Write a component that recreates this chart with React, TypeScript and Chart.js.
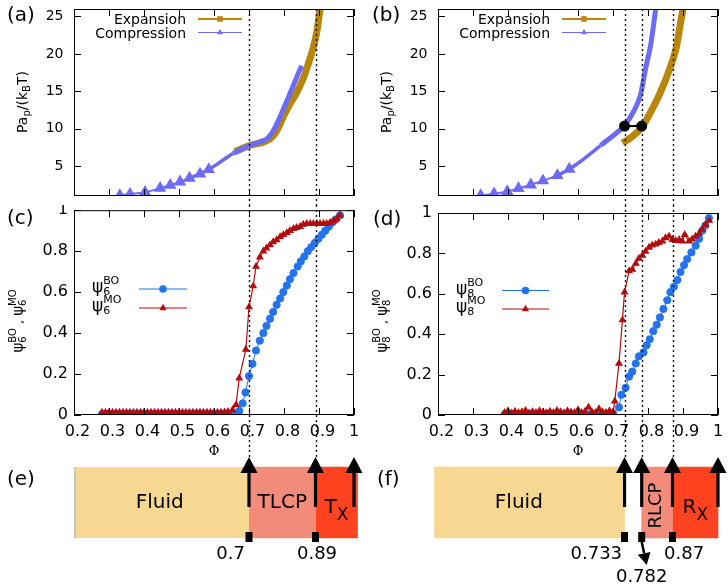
import React, { useEffect, useRef } from "react";
import { Chart, registerables } from "chart.js";

Chart.register(...registerables);

const SANS = '"DejaVu Sans", "Noto Sans", sans-serif';
const SERIF = '"DejaVu Serif", serif';

// ---------------- axis ticks ----------------
const PHI_TICKS = [0.2, 0.3, 0.4, 0.5, 0.6, 0.7, 0.8, 0.9, 1.0];
const PHI_TICK_LABELS = ["0.2", "0.3", "0.4", "0.5", "0.6", "0.7", "0.8", "0.9", "1"];
const P_TICKS = [5, 10, 15, 20, 25];
const P_TICK_LABELS = ["5", "10", "15", "20", "25"];
const PSI_TICKS = [0, 0.2, 0.4, 0.6, 0.8, 1];
const PSI_TICK_LABELS = ["0", "0.2", "0.4", "0.6", "0.8", "1"];

// ---------------- transitions ----------------
const TRI_TRANSITIONS = [0.7, 0.89];
const SQ_TRANSITIONS = [0.733, 0.782, 0.87];
const TRI_ARROWS = [0.7, 0.89, 1.0];
const SQ_ARROWS = [0.733, 0.782, 0.87, 1.0];
const TRI_MARK_LABELS = ["0.7", "0.89"];
const SQ_MARK_LABELS = ["0.733", "0.782", "0.87"];

// ---------------- (a) triangles: pressure ----------------
const A_CMP_PHI = [0.331, 0.36, 0.403, 0.446, 0.475, 0.503, 0.53, 0.56, 0.585, 0.608, 0.655, 0.703, 0.741, 0.751, 0.769, 0.789, 0.808, 0.827, 0.846, 0.851];
const A_CMP_P = [1.08, 1.25, 1.5, 2.05, 2.45, 2.9, 3.4, 3.96, 4.55, 5.23, 6.7, 7.77, 8.4, 8.63, 9.7, 11.6, 13.7, 15.8, 17.95, 18.4];
const A_EXP_PHI = [0.66, 0.703, 0.741, 0.76, 0.779, 0.798, 0.817, 0.836, 0.855, 0.869, 0.884, 0.894, 0.903];
const A_EXP_P = [6.93, 7.77, 8.2, 8.63, 9.7, 11.6, 13.3, 14.8, 16.7, 18.6, 20.9, 23.0, 26.0];

// ---------------- (b) squares: pressure ----------------
const B_CMP_PHI = [0.322, 0.36, 0.398, 0.43, 0.465, 0.5, 0.541, 0.575, 0.608, 0.665, 0.712, 0.731, 0.76, 0.779, 0.793, 0.808, 0.822];
const B_CMP_P = [1.08, 1.3, 1.6, 2.0, 2.5, 3.05, 3.75, 4.6, 5.65, 7.77, 9.5, 10.3, 12.4, 14.6, 18.0, 21.3, 26.0];
const B_EXP_PHI = [0.727, 0.748, 0.781, 0.805, 0.833, 0.862, 0.881, 0.895, 0.9];
const B_EXP_P = [8.1, 8.7, 10.1, 12.0, 14.6, 18.0, 20.9, 24.7, 26.0];
const B_HYST_PHI = [0.733, 0.782];
const B_HYST_P = [10.35, 10.35];

// ---------------- (c) triangles: order parameters ----------------
const C_BO_PHI = [
  0.28, 0.29, 0.3, 0.31, 0.32, 0.33, 0.34, 0.35, 0.36, 0.37, 0.38, 0.39, 0.4, 0.41, 0.42, 0.43, 0.44, 0.45, 0.46, 0.47,
  0.48, 0.49, 0.5, 0.51, 0.52, 0.53, 0.54, 0.55, 0.56, 0.57, 0.58, 0.59, 0.6, 0.61, 0.62, 0.63, 0.64, 0.65, 0.66,
  0.672, 0.682, 0.69, 0.7, 0.71, 0.72, 0.731, 0.741, 0.75, 0.76, 0.769, 0.779, 0.789, 0.798, 0.808, 0.817, 0.827,
  0.839, 0.848, 0.858, 0.868, 0.878, 0.888, 0.898, 0.908, 0.918, 0.928, 0.938, 0.948, 0.96,
];
const C_BO_PSI = [
  0.004, 0.004, 0.004, 0.004, 0.004, 0.004, 0.004, 0.004, 0.004, 0.004, 0.004, 0.004, 0.004, 0.004, 0.004, 0.004, 0.004,
  0.004, 0.004, 0.004, 0.004, 0.004, 0.004, 0.004, 0.004, 0.004, 0.004, 0.004, 0.004, 0.004, 0.004, 0.004, 0.004, 0.004,
  0.004, 0.004, 0.004, 0.005, 0.006,
  0.02, 0.057, 0.11, 0.19, 0.25, 0.315, 0.363, 0.4, 0.435, 0.47, 0.503, 0.538, 0.569, 0.6, 0.632, 0.663, 0.693,
  0.725, 0.75, 0.774, 0.8, 0.82, 0.84, 0.86, 0.88, 0.9, 0.92, 0.94, 0.955, 0.975,
];
const C_MO_PHI = [
  0.28, 0.29, 0.3, 0.31, 0.32, 0.33, 0.34, 0.35, 0.36, 0.37, 0.38, 0.39, 0.4, 0.41, 0.42, 0.43, 0.44, 0.45, 0.46, 0.47,
  0.48, 0.49, 0.5, 0.51, 0.52, 0.53, 0.54, 0.55, 0.56, 0.57, 0.58, 0.59, 0.6, 0.61, 0.62, 0.63, 0.64,
  0.653, 0.663, 0.672, 0.691, 0.7, 0.712, 0.72, 0.731, 0.741, 0.75, 0.76, 0.769, 0.779, 0.789, 0.798, 0.808, 0.817,
  0.827, 0.836, 0.846, 0.855, 0.865, 0.875, 0.884, 0.894, 0.903, 0.913, 0.922, 0.932, 0.942, 0.951, 0.96,
];
const C_MO_PSI = [
  0.013, 0.013, 0.013, 0.013, 0.013, 0.013, 0.013, 0.013, 0.013, 0.013, 0.013, 0.013, 0.013, 0.013, 0.013, 0.013, 0.013,
  0.013, 0.013, 0.013, 0.013, 0.013, 0.013, 0.013, 0.013, 0.013, 0.013, 0.013, 0.013, 0.013, 0.013, 0.013, 0.013, 0.013,
  0.013, 0.014, 0.016,
  0.025, 0.05, 0.18, 0.32, 0.527, 0.63, 0.725, 0.77, 0.8, 0.815, 0.83, 0.845, 0.855, 0.87, 0.88, 0.89, 0.9, 0.91,
  0.915, 0.92, 0.93, 0.934, 0.934, 0.934, 0.934, 0.934, 0.934, 0.934, 0.94, 0.948, 0.958, 0.975,
];

// ---------------- (d) squares: order parameters ----------------
const D_BO_PHI = [
  0.39, 0.4, 0.41, 0.42, 0.43, 0.44, 0.45, 0.46, 0.47, 0.48, 0.49, 0.5, 0.51, 0.52, 0.53, 0.54, 0.55, 0.56, 0.57, 0.58,
  0.59, 0.6, 0.61, 0.62, 0.63, 0.64, 0.65, 0.66, 0.67, 0.68, 0.69, 0.7,
  0.717, 0.724, 0.736, 0.746, 0.755, 0.765, 0.774, 0.787, 0.796, 0.805, 0.815, 0.825, 0.834, 0.844, 0.855, 0.864,
  0.874, 0.884, 0.893, 0.903, 0.912, 0.924, 0.936, 0.946, 0.955, 0.964, 0.974,
];
const D_BO_PSI = [
  0.003, 0.004, 0.002, 0.005, 0.003, 0.004, 0.002, 0.006, 0.003, 0.004, 0.002, 0.005, 0.008, 0.004, 0.006, 0.003,
  0.005, 0.004, 0.002, 0.006, 0.004, 0.003, 0.005, 0.004, 0.003, 0.006, 0.004, 0.005, 0.003, 0.004, 0.006, 0.008,
  0.038, 0.1, 0.135, 0.19, 0.215, 0.255, 0.29, 0.31, 0.345, 0.375, 0.415, 0.447, 0.483, 0.525, 0.568, 0.608, 0.635,
  0.668, 0.708, 0.742, 0.772, 0.805, 0.838, 0.872, 0.913, 0.938, 0.975,
];
const D_MO_PHI = [
  0.39, 0.4, 0.41, 0.42, 0.43, 0.44, 0.45, 0.46, 0.47, 0.48, 0.49, 0.5, 0.51, 0.52, 0.53, 0.54, 0.55, 0.56, 0.57, 0.58,
  0.59, 0.6, 0.61, 0.62, 0.63, 0.64, 0.65, 0.66, 0.67, 0.68, 0.69, 0.7,
  0.705, 0.717, 0.727, 0.733, 0.746, 0.755, 0.765, 0.774, 0.784, 0.793, 0.803, 0.812, 0.822, 0.831, 0.841, 0.85,
  0.86, 0.87, 0.879, 0.889, 0.898, 0.905, 0.917, 0.926, 0.936, 0.946, 0.955, 0.964, 0.975,
];
const D_MO_PSI = [
  0.012, 0.02, 0.01, 0.018, 0.012, 0.015, 0.022, 0.01, 0.016, 0.012, 0.02, 0.014, 0.01, 0.018, 0.012, 0.022, 0.015,
  0.01, 0.02, 0.014, 0.012, 0.025, 0.012, 0.018, 0.038, 0.014, 0.012, 0.03, 0.015, 0.012, 0.02, 0.014,
  0.068, 0.255, 0.47, 0.608, 0.713, 0.72, 0.75, 0.775, 0.79, 0.81, 0.83, 0.84, 0.845, 0.853, 0.86, 0.877, 0.885,
  0.868, 0.863, 0.868, 0.86, 0.893, 0.86, 0.87, 0.885, 0.898, 0.918, 0.942, 0.963,
];

// ---------------- (e), (f) phase sequences ----------------
const E_PHASES = ["Fluid", "TLCP", "T_X"];
const E_START = [0.2, 0.7, 0.89];
const E_END = [0.7, 0.89, 1.01];
const F_PHASES = ["Fluid", "RLCP", "R_X"];
const F_START = [0.19, 0.782, 0.87];
const F_END = [0.733, 0.87, 1.0];

// ---------------- styles ----------------
const GOLD = "#B8860B";
const VIOLET = "#6B6BF6";
const BLUE = "#2372EE";
const RED = "#B30C0C";
const PHASE_COLORS = ["#F6D892", "#F28B7A", "#FF4320"];

type Seg = { t: string; size: number; dy?: number; stack?: boolean; font?: string };

function richWidth(ctx: CanvasRenderingContext2D, segs: Seg[]) {
  let w = 0;
  let pend = 0;
  for (const s of segs) {
    ctx.font = `${s.size}px ${s.font || SANS}`;
    const sw = ctx.measureText(s.t).width;
    if (s.stack) pend = sw;
    else {
      w += Math.max(pend, sw);
      pend = 0;
    }
  }
  return w + pend;
}

function drawRich(ctx: CanvasRenderingContext2D, segs: Seg[], x: number, y: number, align = "left", rotate = 0) {
  ctx.save();
  ctx.translate(x, y);
  if (rotate) ctx.rotate(rotate);
  ctx.fillStyle = "#000";
  ctx.textAlign = "left";
  ctx.textBaseline = "alphabetic";
  const w = richWidth(ctx, segs);
  let cx = align === "center" ? -w / 2 : align === "right" ? -w : 0;
  let pend = 0;
  for (const s of segs) {
    ctx.font = `${s.size}px ${s.font || SANS}`;
    const sw = ctx.measureText(s.t).width;
    ctx.fillText(s.t, cx, s.dy || 0);
    if (s.stack) pend = sw;
    else {
      cx += Math.max(pend, sw);
      pend = 0;
    }
  }
  ctx.restore();
}

function drawMarker(ctx: CanvasRenderingContext2D, kind: string, x: number, y: number, r: number, color: string) {
  ctx.save();
  ctx.fillStyle = color;
  ctx.beginPath();
  if (kind === "circle") ctx.arc(x, y, r, 0, Math.PI * 2);
  else if (kind === "rect") ctx.rect(x - r, y - r, 2 * r, 2 * r);
  else {
    ctx.moveTo(x, y - r * 1.15);
    ctx.lineTo(x + r, y + r * 0.6);
    ctx.lineTo(x - r, y + r * 0.6);
    ctx.closePath();
  }
  ctx.fill();
  ctx.restore();
}

function panelPlugin(spec: any) {
  return {
    id: "panelDecor",
    afterDatasetsDraw(chart: any) {
      const { ctx, chartArea: a, scales } = chart;
      const xs = scales.x;
      const ys = scales.y;
      ctx.save();
      // dotted transition lines
      ctx.setLineDash([2, 3]);
      ctx.lineWidth = 1.4;
      ctx.strokeStyle = "#111";
      ctx.beginPath();
      for (const v of spec.dotted) {
        const px = Math.round(xs.getPixelForValue(v)) + 0.5;
        ctx.moveTo(px, spec.dottedFromCanvasTop ? 0 : a.top);
        ctx.lineTo(px, chart.height);
      }
      ctx.stroke();
      ctx.setLineDash([]);
      // frame + inward ticks
      ctx.strokeStyle = "#000";
      ctx.lineWidth = 1;
      ctx.strokeRect(a.left + 0.5, a.top + 0.5, a.right - a.left - 1, a.bottom - a.top - 1);
      const tl = 7;
      ctx.beginPath();
      for (const v of PHI_TICKS) {
        const px = Math.round(xs.getPixelForValue(v)) + 0.5;
        ctx.moveTo(px, a.bottom);
        ctx.lineTo(px, a.bottom - tl);
        ctx.moveTo(px, a.top);
        ctx.lineTo(px, a.top + tl);
      }
      for (const v of spec.yTicks) {
        const py = Math.round(ys.getPixelForValue(v)) + 0.5;
        ctx.moveTo(a.left, py);
        ctx.lineTo(a.left + tl, py);
        ctx.moveTo(a.right, py);
        ctx.lineTo(a.right - tl, py);
      }
      ctx.stroke();
      // tick labels
      ctx.fillStyle = "#000";
      ctx.font = `${spec.yTickSize}px ${SANS}`;
      ctx.textAlign = "right";
      ctx.textBaseline = "middle";
      spec.yTicks.forEach((v: number, i: number) => {
        ctx.fillText(spec.yTickLabels[i], a.left - spec.yTickGap, ys.getPixelForValue(v));
      });
      if (spec.showXLabels) {
        ctx.font = `16px ${SANS}`;
        ctx.textAlign = "center";
        PHI_TICKS.forEach((v, i) => {
          const l = PHI_TICK_LABELS[i];
          ctx.fillText(l, xs.getPixelForValue(v) + (l.length > 1 ? 3.5 : 0), a.bottom + 16.5);
        });
      }
      // legend
      if (spec.legend) {
        const lg = spec.legend;
        for (const row of lg.rows) {
          drawRich(ctx, row.segs, lg.textX, row.y + (row.textDy || 0), lg.textAlign);
          ctx.strokeStyle = row.color;
          ctx.lineWidth = row.lw;
          ctx.beginPath();
          ctx.moveTo(lg.x0, row.y);
          ctx.lineTo(lg.x1, row.y);
          ctx.stroke();
          drawMarker(ctx, row.marker, (lg.x0 + lg.x1) / 2, row.y, row.r, row.color);
        }
      }
      // axis title
      if (spec.title) drawRich(ctx, spec.title.segs, spec.title.x, spec.title.y, "center", -Math.PI / 2);
      // panel label
      ctx.fillStyle = "#000";
      ctx.font = `20px ${SANS}`;
      ctx.textAlign = "left";
      ctx.textBaseline = "middle";
      ctx.fillText(spec.label, spec.labelX, spec.labelY);
      ctx.restore();
    },
  };
}

function upArrow(ctx: CanvasRenderingContext2D, x: number, tipY: number, baseY: number) {
  const headL = 16;
  const headW = 8.5;
  const shaft = 3.2;
  ctx.fillRect(x - shaft / 2, tipY + headL - 1, shaft, baseY - (tipY + headL - 1));
  ctx.beginPath();
  ctx.moveTo(x, tipY);
  ctx.lineTo(x + headW, tipY + headL);
  ctx.lineTo(x - headW, tipY + headL);
  ctx.closePath();
  ctx.fill();
}

function phasePlugin(spec: any) {
  return {
    id: "phaseDecor",
    afterDatasetsDraw(chart: any) {
      const { ctx, chartArea: a, scales } = chart;
      const xs = scales.x;
      const midY = (a.top + a.bottom) / 2;
      const tipY = a.top - 10;
      ctx.save();
      ctx.fillStyle = "#000";
      // Φ axis label (belongs to panel above)
      ctx.font = `13px ${SERIF}`;
      ctx.textAlign = "center";
      ctx.textBaseline = "middle";
      ctx.fillText("Φ", (xs.left + xs.right) / 2, 7);
      // dotted lines from above
      ctx.setLineDash([2, 3]);
      ctx.lineWidth = 1.4;
      ctx.strokeStyle = "#111";
      ctx.beginPath();
      for (const v of spec.marks) {
        const px = Math.round(xs.getPixelForValue(v)) + 0.5;
        ctx.moveTo(px, 0);
        ctx.lineTo(px, tipY + 2);
      }
      ctx.stroke();
      ctx.setLineDash([]);
      // phase names
      spec.phases.forEach((name: string, i: number) => {
        const px = xs.getPixelForValue(spec.labelAt[i]);
        if (name.includes("_")) {
          const [m, s] = name.split("_");
          drawRich(ctx, [{ t: m, size: 20 }, { t: s, size: 17, dy: 7 }], px, midY + 10.5, "center");
        } else if (name === "RLCP") {
          ctx.save();
          ctx.translate(px + 4, midY + 3);
          ctx.rotate(-Math.PI / 2);
          ctx.font = `18px ${SANS}`;
          ctx.textAlign = "center";
          ctx.textBaseline = "alphabetic";
          ctx.fillText(name, 0, 0);
          ctx.restore();
        } else {
          ctx.font = `20px ${SANS}`;
          ctx.textAlign = "center";
          ctx.textBaseline = "middle";
          ctx.fillText(name, px, midY);
        }
      });
      // arrows
      ctx.fillStyle = "#000";
      for (const v of spec.arrows) upArrow(ctx, xs.getPixelForValue(v), tipY, a.top + 40);
      // transition markers and values
      spec.marks.forEach((v: number, i: number) => {
        const px = xs.getPixelForValue(v);
        ctx.fillRect(px - 3.5, a.bottom - 6, 7, 10);
        const pl = spec.place[i];
        ctx.font = `18px ${SANS}`;
        ctx.textAlign = pl.align;
        ctx.textBaseline = "middle";
        ctx.fillText(spec.markLabels[i], px + pl.dx, a.bottom + pl.dy);
        if (pl.down) {
          const x0 = px, y0 = a.bottom + 4, x1 = px + 5, y1 = a.bottom + 27;
          const len = Math.hypot(x1 - x0, y1 - y0);
          const ux = (x1 - x0) / len, uy = (y1 - y0) / len;
          const bx = x1 - ux * 12, by = y1 - uy * 12;
          ctx.strokeStyle = "#000";
          ctx.lineWidth = 2.5;
          ctx.beginPath();
          ctx.moveTo(x0, y0);
          ctx.lineTo(bx, by);
          ctx.stroke();
          ctx.beginPath();
          ctx.moveTo(x1, y1);
          ctx.lineTo(bx - uy * 6.5, by + ux * 6.5);
          ctx.lineTo(bx + uy * 6.5, by - ux * 6.5);
          ctx.closePath();
          ctx.fill();
        }
      });
      // panel label
      ctx.font = `20px ${SANS}`;
      ctx.textAlign = "left";
      ctx.textBaseline = "middle";
      ctx.fillText(spec.label, spec.labelX, 35);
      ctx.restore();
    },
  };
}

const pts = (xs: number[], ys: number[]) => xs.map((x, i) => ({ x, y: ys[i] }));

function lineConfig(datasets: any[], yMin: number, yMax: number, padding: any, plugin: any) {
  return {
    type: "scatter",
    data: { datasets },
    options: {
      animation: false,
      responsive: false,
      devicePixelRatio: 1,
      events: [],
      layout: { padding },
      scales: {
        x: { type: "linear", min: 0.2, max: 1.0, display: false },
        y: { type: "linear", min: yMin, max: yMax, display: false },
      },
      plugins: { legend: { display: false }, tooltip: { enabled: false } },
    },
    plugins: [plugin],
  } as any;
}

function phaseConfig(phases: string[], starts: number[], ends: number[], greyEdge: boolean, plugin: any) {
  return {
    type: "bar",
    data: {
      labels: ["phases"],
      datasets: phases.map((p, i) => ({
        label: p,
        data: [[starts[i], ends[i]]],
        backgroundColor: PHASE_COLORS[i],
        borderColor: "#c4c4c4",
        borderWidth: greyEdge && i === 0 ? { left: 2, right: 0, top: 0, bottom: 0 } : 0,
        borderSkipped: false,
        grouped: false,
        barPercentage: 1,
        categoryPercentage: 1,
        clip: false,
      })),
    },
    options: {
      indexAxis: "y",
      animation: false,
      responsive: false,
      devicePixelRatio: 1,
      events: [],
      layout: { padding: { left: 74, right: 10, top: 22, bottom: 49 } },
      scales: {
        x: { type: "linear", min: 0.2, max: 1.0, display: false },
        y: { display: false },
      },
      plugins: { legend: { display: false }, tooltip: { enabled: false } },
    },
    plugins: [plugin],
  } as any;
}

const pressureTitle: Seg[] = [
  { t: "Pa", size: 14 },
  { t: "p", size: 10, dy: 3 },
  { t: "/(k", size: 14 },
  { t: "B", size: 10, dy: 3 },
  { t: "T)", size: 14 },
];
const psiTitle = (n: string): Seg[] => [
  { t: "ψ", size: 15 },
  { t: "BO", size: 10, dy: -7, stack: true },
  { t: n, size: 10, dy: 3 },
  { t: " , ", size: 13 },
  { t: "ψ", size: 15 },
  { t: "MO", size: 10, dy: -7, stack: true },
  { t: n, size: 10, dy: 3 },
];
const psiLegend = (n: string, sup: string): Seg[] => [
  { t: "ψ", size: 17, dy: 3 },
  { t: sup, size: 11, dy: -5, stack: true },
  { t: n, size: 11, dy: 6 },
];

const pressureLegend = {
  textX: 186,
  textAlign: "right",
  x0: 198,
  x1: 242,
  rows: [
    { segs: [{ t: "Expansion", size: 14 }], textDy: 5, y: 19, color: GOLD, lw: 2, marker: "rect", r: 2.8 },
    { segs: [{ t: "Compression", size: 14 }], textDy: 5, y: 32.5, color: VIOLET, lw: 1.2, marker: "tri", r: 3 },
  ],
};

function pressureDatasets(cx: number[], cy: number[], ex: number[], ey: number[]) {
  return [
    {
      data: pts(cx, cy), showLine: true, borderColor: VIOLET, backgroundColor: VIOLET, borderWidth: 5,
      segment: { borderWidth: (c: any) => (c.p0.parsed.x < 0.52 ? 2 : c.p0.parsed.x < 0.64 ? 3.5 : 5) },
      pointStyle: "triangle",
      pointRadius: (c: any) => (c.raw && c.raw.x < 0.6 ? 2.2 : 0),
      cubicInterpolationMode: "monotone", order: 1,
    },
    {
      data: pts(ex, ey), showLine: true, borderColor: GOLD, backgroundColor: GOLD, borderWidth: 7,
      pointRadius: 0, cubicInterpolationMode: "monotone", order: 2,
    },
  ];
}

function psiDatasets(bx: number[], by: number[], mx: number[], my: number[]) {
  return [
    {
      data: pts(mx, my), showLine: true, borderColor: RED, backgroundColor: RED, borderWidth: 1.2,
      pointStyle: "triangle", pointRadius: 3.4, order: 0,
    },
    {
      data: pts(bx, by), showLine: true, borderColor: BLUE, backgroundColor: BLUE, borderWidth: 1,
      pointStyle: "circle", pointRadius: 3.6, order: 1,
    },
  ];
}

export default function App() {
  const r0 = useRef<HTMLCanvasElement>(null);
  const r1 = useRef<HTMLCanvasElement>(null);
  const r2 = useRef<HTMLCanvasElement>(null);
  const r3 = useRef<HTMLCanvasElement>(null);
  const r4 = useRef<HTMLCanvasElement>(null);
  const r5 = useRef<HTMLCanvasElement>(null);
  const refs = [r0, r1, r2, r3, r4, r5];

  useEffect(() => {
    const cfgA = lineConfig(
      pressureDatasets(A_CMP_PHI, A_CMP_P, A_EXP_PHI, A_EXP_P), 1, 26,
      { left: 74, right: 10, top: 4, bottom: 5 },
      panelPlugin({
        label: "(a)", labelX: 7, labelY: 16, dotted: TRI_TRANSITIONS, dottedFromCanvasTop: false,
        yTicks: P_TICKS, yTickLabels: P_TICK_LABELS, yTickSize: 14, yTickGap: 10.5, showXLabels: false,
        legend: pressureLegend, title: { segs: pressureTitle, x: 27, y: 102 },
      })
    );
    const bSets: any[] = pressureDatasets(B_CMP_PHI, B_CMP_P, B_EXP_PHI, B_EXP_P);
    bSets.push({
      data: pts(B_HYST_PHI, B_HYST_P), showLine: true, borderColor: "#000", backgroundColor: "#000",
      borderWidth: 2, pointStyle: "circle", pointRadius: 4.5, order: 0,
    });
    const cfgB = lineConfig(
      bSets, 1, 26,
      { left: 74, right: 10, top: 4, bottom: 5 },
      panelPlugin({
        label: "(b)", labelX: 8, labelY: 16, dotted: SQ_TRANSITIONS, dottedFromCanvasTop: false,
        yTicks: P_TICKS, yTickLabels: P_TICK_LABELS, yTickSize: 14, yTickGap: 10.5, showXLabels: false,
        legend: pressureLegend, title: { segs: pressureTitle, x: 27, y: 102 },
      })
    );
    const cfgC = lineConfig(
      psiDatasets(C_BO_PHI, C_BO_PSI, C_MO_PHI, C_MO_PSI), 0, 1,
      { left: 74, right: 10, top: 5, bottom: 30 },
      panelPlugin({
        label: "(c)", labelX: 7, labelY: 14, dotted: TRI_TRANSITIONS, dottedFromCanvasTop: true,
        yTicks: PSI_TICKS, yTickLabels: PSI_TICK_LABELS, yTickSize: 16, yTickGap: 6, showXLabels: true,
        legend: {
          textX: 92, textAlign: "left", x0: 139, x1: 187,
          rows: [
            { segs: psiLegend("6", "BO"), y: 84, color: BLUE, lw: 1.2, marker: "circle", r: 3.8 },
            { segs: psiLegend("6", "MO"), y: 103, color: RED, lw: 1.2, marker: "tri", r: 3.6 },
          ],
        },
        title: { segs: psiTitle("6"), x: 23, y: 116 },
      })
    );
    const cfgD = lineConfig(
      psiDatasets(D_BO_PHI, D_BO_PSI, D_MO_PHI, D_MO_PSI), 0, 1,
      { left: 74, right: 10, top: 8, bottom: 30 },
      panelPlugin({
        label: "(d)", labelX: 9, labelY: 15, dotted: SQ_TRANSITIONS, dottedFromCanvasTop: true,
        yTicks: PSI_TICKS, yTickLabels: PSI_TICK_LABELS, yTickSize: 16, yTickGap: 6, showXLabels: true,
        legend: {
          textX: 92, textAlign: "left", x0: 138, x1: 185,
          rows: [
            { segs: psiLegend("8", "BO"), y: 85.5, color: BLUE, lw: 1.2, marker: "circle", r: 3.8 },
            { segs: psiLegend("8", "MO"), y: 104, color: RED, lw: 1.2, marker: "tri", r: 3.6 },
          ],
        },
        title: { segs: psiTitle("8"), x: 23, y: 116 },
      })
    );
    const cfgE = phaseConfig(E_PHASES, E_START, E_END, true, phasePlugin({
      label: "(e)", labelX: 7, phases: E_PHASES, labelAt: [0.445, 0.795, 0.95],
      arrows: TRI_ARROWS, marks: TRI_TRANSITIONS, markLabels: TRI_MARK_LABELS,
      place: [{ align: "right", dx: -4, dy: 16 }, { align: "center", dx: 1.5, dy: 16 }],
    }));
    const cfgF = phaseConfig(F_PHASES, F_START, F_END, false, phasePlugin({
      label: "(f)", labelX: 13, phases: F_PHASES, labelAt: [0.431, 0.826, 0.935],
      arrows: SQ_ARROWS, marks: SQ_TRANSITIONS, markLabels: SQ_MARK_LABELS,
      place: [
        { align: "right", dx: -2.5, dy: 16 },
        { align: "center", dx: 0, dy: 39, down: true },
        { align: "left", dx: -8.5, dy: 16 },
      ],
    }));
    const cfgs = [cfgA, cfgB, cfgC, cfgD, cfgE, cfgF];
    const charts = cfgs.map((c, i) => new Chart(refs[i].current as HTMLCanvasElement, c));
    return () => charts.forEach((c) => c.destroy());
  }, []);

  const place = [
    { l: 0, t: 0, w: 364, h: 205 },
    { l: 364, t: 0, w: 364, h: 205 },
    { l: 0, t: 205, w: 364, h: 240 },
    { l: 364, t: 205, w: 364, h: 240 },
    { l: 0, t: 445, w: 364, h: 142 },
    { l: 364, t: 445, w: 364, h: 142 },
  ];

  return (
    <div style={{ position: "absolute", left: 0, top: 0, width: 728, height: 587, background: "#fff", overflow: "hidden" }}>
      {place.map((p, i) => (
        <canvas
          key={i}
          ref={refs[i]}
          width={p.w}
          height={p.h}
          style={{ position: "absolute", left: p.l, top: p.t, width: p.w, height: p.h, display: "block" }}
        />
      ))}
    </div>
  );
}
